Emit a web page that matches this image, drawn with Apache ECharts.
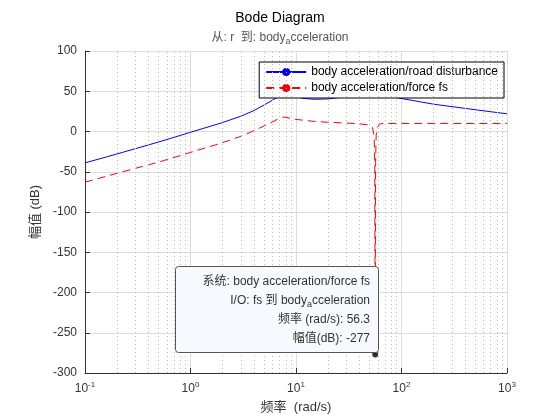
<!DOCTYPE html>
<html><head><meta charset="utf-8">
<script src="https://cdn.jsdelivr.net/npm/echarts@6/dist/echarts.min.js"></script>
<style>body{margin:0}#c{width:560px;height:420px}</style></head>
<body><div id="c"></div>
<script>
const roadFreq = [0.1, 0.2, 0.5, 1, 2, 3, 4, 5, 6, 7, 8, 10, 12, 15, 20, 25, 30, 40, 50, 60, 80, 100, 200, 500, 1000];
const roadMag = [-39, -28, -13, -1, 11, 19, 26, 33, 39, 44, 46, 43, 41, 40, 40.5, 42, 44, 46, 46.5, 45.5, 43, 41, 34, 27, 22];
const fsFreq = [0.1, 0.2, 0.5, 1, 2, 3, 4, 5, 6, 7, 7.5, 8, 10, 15, 20, 30, 40, 50, 53, 55, 55.8, 56.3, 56.8, 57.5, 59, 62, 70, 100, 200, 500, 1000];
const fsMag = [-63, -52, -38, -26, -14, -6, 1, 7, 12, 16.5, 18, 17.5, 15, 12.5, 11.5, 10.5, 9.5, 8, 5, -5, -40, -277, -40, -5, 5, 9.5, 10, 10, 10, 10, 10];
const tipPoint = [56.3, -277];
const supLabels = {0.1: '-1', 1: '0', 10: '1', 100: '2', 1000: '3'};

const minorLines = [];
[0.1, 1, 10, 100].forEach(d => { for (let k = 2; k <= 9; k++) minorLines.push({ xAxis: d * k }); });

const font = 'Liberation Sans, Noto Sans CJK SC, sans-serif';
const chart = echarts.init(document.getElementById('c'));
chart.setOption({
  animation: false,
  textStyle: { fontFamily: font },
  title: {
    left: 'center', top: 6, itemGap: 4,
    text: 'Bode Diagram',
    textStyle: { fontSize: 14, fontWeight: 'normal', color: '#000' },
    subtext: '从: r  到: body{s|a}cceleration',
    subtextStyle: { fontSize: 12, color: '#555', rich: { s: { fontSize: 9, color: '#555', verticalAlign: 'bottom', padding: [8, 0, 0, 0] } } }
  },
  legend: {
    right: 56, top: 62, orient: 'vertical', itemGap: 4,
    backgroundColor: '#fff', borderColor: '#000', borderWidth: 1, borderRadius: 0,
    padding: [4, 6], itemWidth: 40, itemHeight: 10,
    textStyle: { fontSize: 12, color: '#000' },
    data: ['body acceleration/road disturbance', 'body acceleration/force fs']
  },
  grid: { left: 85, right: 53, top: 51, bottom: 47 },
  xAxis: {
    type: 'log', min: 0.1, max: 1000, logBase: 10,
    name: '频率  (rad/s)', nameLocation: 'middle', nameGap: 28,
    nameTextStyle: { fontSize: 13, color: '#333' },
    axisLine: { onZero: false, lineStyle: { color: '#333' } },
    axisTick: { inside: true, lineStyle: { color: '#333' } },
    axisLabel: {
      color: '#333', fontSize: 12,
      formatter: v => '10{s|' + supLabels[v] + '}',
      rich: { s: { fontSize: 8, verticalAlign: 'top', padding: [0, 0, 8, 0], color: '#333' } }
    },
    splitLine: { show: true, lineStyle: { color: '#ddd' } }
  },
  yAxis: {
    type: 'value', min: -300, max: 100, interval: 50,
    name: '幅值 (dB)', nameLocation: 'middle', nameGap: 40,
    nameTextStyle: { fontSize: 13, color: '#333' },
    axisLine: { show: true, lineStyle: { color: '#333' } },
    axisTick: { inside: true, lineStyle: { color: '#333' } },
    axisLabel: { color: '#333', fontSize: 12 },
    splitLine: { lineStyle: { color: '#ddd' } }
  },
  series: [
    {
      name: 'body acceleration/road disturbance', type: 'line', showSymbol: false, symbol: 'none',
      data: roadFreq.map((f, i) => [f, roadMag[i]]),
      lineStyle: { color: '#0000ff', width: 1 }, itemStyle: { color: '#0000ff' },
      markLine: { silent: true, symbol: 'none', label: { show: false },
        lineStyle: { type: [1, 3], color: '#bbb', width: 1 }, data: minorLines }
    },
    {
      name: 'body acceleration/force fs', type: 'line', showSymbol: false, symbol: 'none',
      data: fsFreq.map((f, i) => [f, fsMag[i]]),
      lineStyle: { color: '#ff0000', width: 1, type: [8, 5] }, itemStyle: { color: '#ff0000' }
    },
    {
      type: 'scatter', data: [tipPoint], symbolSize: 6, z: 20,
      itemStyle: { color: '#000' }, silent: true
    }
  ],
  graphic: [
    { type: 'rect', left: 175, top: 266, z: 100, shape: { width: 203, height: 86, r: 3 },
      style: { fill: 'rgba(248,248,255,1)', stroke: '#555', lineWidth: 1 } },
    { type: 'text', x: 370, y: 272, z: 101,
      style: { text: '系统: body acceleration/force fs\nI/O: fs 到 body{s|a}cceleration\n频率 (rad/s): 56.3\n幅值(dB): -277',
        align: 'right', fontSize: 12, lineHeight: 19, fill: '#333', fontFamily: font,
        rich: { s: { fontSize: 9, fill: '#333', padding: [8, 0, 0, 0] } } } }
  ]
});
</script></body></html>
